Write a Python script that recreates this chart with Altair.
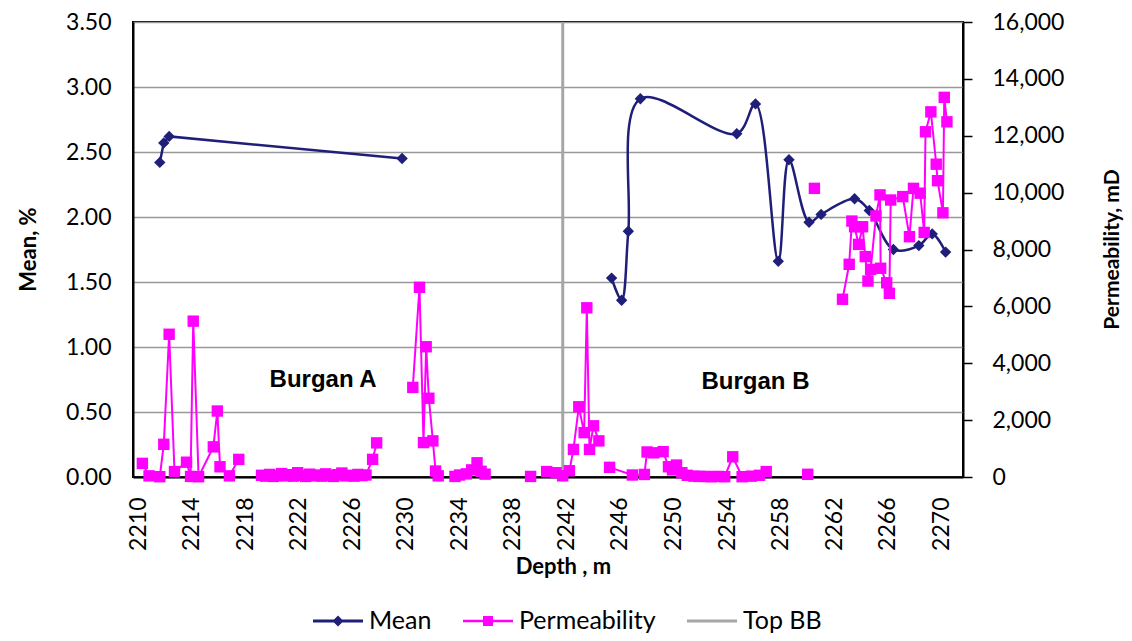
import altair as alt
import pandas as pd

# ---------------- data ----------------
mean_depth = [2212.0, 2212.3, 2212.7, 2230.1,
              2245.75, 2246.5, 2247.0, 2247.9, 2255.1, 2256.5, 2258.2, 2259.0,
              2260.5, 2261.4, 2263.9, 2265.0, 2266.8, 2268.7, 2269.7, 2270.7]
mean_value = [2.42, 2.57, 2.62, 2.45,
              1.53, 1.36, 1.89, 2.91, 2.64, 2.87, 1.66, 2.44,
              1.96, 2.02, 2.14, 2.05, 1.75, 1.78, 1.87, 1.73]
mean_segment = ["A"] * 4 + ["B"] * 16

perm_depth = [
    # segment 1
    2210.7, 2211.2, 2212.0, 2212.3, 2212.7, 2213.1, 2214.0, 2214.3, 2214.5, 2214.9,
    2216.0, 2216.3, 2216.5, 2217.2, 2217.9,
    # segment 2
    2219.6, 2219.9, 2220.2, 2220.5, 2220.8, 2221.1, 2221.4, 2221.7, 2222.0, 2222.3,
    2222.6, 2222.9, 2223.2, 2223.5, 2223.8, 2224.1, 2224.4, 2224.7, 2225.0, 2225.3,
    2225.6, 2225.9, 2226.2, 2226.5, 2226.8, 2227.1, 2227.4, 2227.9, 2228.2,
    # segment 3
    2230.9, 2231.4, 2231.7, 2231.9, 2232.1, 2232.4, 2232.6, 2232.8,
    # segment 4
    2234.05, 2234.4, 2234.9, 2235.3, 2235.7, 2236.0, 2236.3,
    # segment 5
    2239.7,
    # segment 6
    2240.9, 2241.6, 2242.1, 2242.6, 2242.9, 2243.3, 2243.7, 2243.9, 2244.1, 2244.4, 2244.8,
    # segment 7
    2245.6, 2247.3, 2248.2, 2248.4, 2248.9, 2249.6, 2250.0, 2250.3, 2250.6, 2251.0,
    2251.4, 2251.9, 2252.3, 2252.8, 2253.2, 2253.7, 2254.2, 2254.8, 2255.5, 2256.2,
    2256.8, 2257.3,
    # segments 8, 9
    2260.4, 2260.9,
    # segment 10
    2263.0, 2263.5, 2263.7, 2263.9, 2264.2, 2264.5, 2264.7, 2264.9, 2265.1, 2265.5,
    2265.8, 2265.85, 2266.3, 2266.5, 2266.6, 2267.5, 2268.0, 2268.3, 2268.8, 2269.1,
    2269.2, 2269.6, 2270.0, 2270.1, 2270.5, 2270.6, 2270.8,
]
perm_value = [
    480, 40, 10, 1150, 5020, 190, 520, 20, 5480, 10,
    1060, 2320, 360, 40, 620,
    60, 30, 90, 20, 50, 120, 40, 80, 30, 150,
    60, 20, 100, 40, 70, 30, 110, 50, 20, 80,
    140, 40, 60, 30, 90, 50, 70, 620, 1200,
    3150, 6670, 1210, 4580, 2770, 1270, 210, 40,
    20, 70, 110, 250, 500, 200, 100,
    20,
    190, 150, 40, 220, 970, 2470, 1560, 5950, 970, 1800, 1270,
    340, 70, 90, 880, 850, 890, 360, 250, 420, 150,
    60, 30, 20, 20, 10, 20, 10, 710, 10, 30,
    60, 190,
    95, 10150,
    6250, 7480, 9000, 8800, 8180, 8800, 7750, 6890, 7300, 9180,
    9920, 7340, 6830, 6460, 9740, 9860, 8450, 10150, 9980, 8600,
    12140, 12840, 11000, 10420, 9290, 13350, 12490,
]
perm_segment = ([1] * 15 + [2] * 29 + [3] * 8 + [4] * 7 + [5] * 1 + [6] * 11
                + [7] * 22 + [8] + [9] + [10] * 27)

top_bb_depth = [2242.1]

zone_labels = ["Burgan A", "Burgan B"]
zone_depth = [2224.2, 2256.5]
zone_mean = [0.745, 0.73]

legend_series = ["Mean", "Permeability", "Top BB"]
legend_colors = ["#1F1F7A", "#FF00FF", "#A6A6A6"]
legend_shapes = [
    "M-1,-0.06H1V0.06H-1Z M-0.22,0L0,-0.22L0.22,0L0,0.22Z",
    "M-1,-0.05H1V0.05H-1Z M-0.2,-0.2H0.2V0.2H-0.2Z",
    "M-1,-0.06H1V0.06H-1Z",
]

x_ticks = list(range(2210, 2271, 4))
mean_ticks = [0, 0.5, 1.0, 1.5, 2.0, 2.5, 3.0, 3.5]
perm_ticks = list(range(0, 16001, 2000))

# ---------------- tables ----------------
mean_df = pd.DataFrame({"depth": mean_depth, "mean": mean_value, "seg": mean_segment})
perm_df = pd.DataFrame({"depth": perm_depth, "perm": perm_value, "seg": perm_segment})
bb_df = pd.DataFrame({"depth": top_bb_depth})
zone_df = pd.DataFrame({"depth": zone_depth, "mean": zone_mean, "label": zone_labels})
legend_df = pd.DataFrame({"series": legend_series})

LABEL_FONT = "Lato"
NAVY = legend_colors[0]
MAGENTA = legend_colors[1]
GREY = legend_colors[2]

x_enc = alt.X(
    "depth:Q",
    scale=alt.Scale(domain=[2210, 2272], nice=False, zero=False),
    axis=alt.Axis(
        values=x_ticks, format="d", labelAngle=270, labelPadding=20, labelOffset=5,
        ticks=False, grid=False, labelFont=LABEL_FONT, labelFontSize=23,
        labelColor="black", domainColor="black", domainWidth=2,
        title="Depth , m", titleFont=LABEL_FONT, titleFontSize=22, titleFontWeight="bold",
        titleColor="black", titleX=430, titleY=89, titleBaseline="middle",
        titleAlign="center",
    ),
)

y_mean = alt.Y(
    "mean:Q",
    scale=alt.Scale(domain=[0, 3.5], nice=False),
    axis=alt.Axis(
        values=mean_ticks, format=".2f", ticks=False, labelPadding=22,
        labelFont=LABEL_FONT, labelFontSize=23, labelColor="black",
        grid=True, gridColor="#999999", gridWidth=1.4,
        domainColor="black", domainWidth=2,
        title="Mean, %", titleFont=LABEL_FONT, titleFontSize=22, titleFontWeight="bold",
        titleColor="black", titleX=-105, titleY=227, titleAngle=270,
        titleBaseline="middle", titleAlign="center",
    ),
)

y_perm = alt.Y(
    "perm:Q",
    scale=alt.Scale(domain=[0, 16000], nice=False),
    axis=alt.Axis(
        orient="right", values=perm_ticks, format=",d", tickSize=9, tickColor="black",
        tickWidth=1.5, labelPadding=20, labelFont=LABEL_FONT, labelFontSize=23,
        labelColor="black", grid=False, domainColor="black", domainWidth=2,
        title="Permeability, mD", titleFont=LABEL_FONT, titleFontSize=21,
        titleFontWeight="bold", titleColor="black", titleX=149, titleY=227,
        titleAngle=270, titleBaseline="middle", titleAlign="center",
    ),
)

mean_line_a = alt.Chart(mean_df).transform_filter(alt.datum.seg == "A").mark_line(
    color=NAVY, strokeWidth=2.5
).encode(x=x_enc, y=y_mean)

mean_line_b = alt.Chart(mean_df).transform_filter(alt.datum.seg == "B").mark_line(
    interpolate="catmull-rom", color=NAVY, strokeWidth=2.5
).encode(x=x_enc, y=y_mean)

mean_pts = alt.Chart(mean_df).mark_point(
    shape="diamond", filled=True, color=NAVY, size=130, opacity=1
).encode(x=x_enc, y=y_mean)

bb_rule = alt.Chart(bb_df).mark_rule(color=GREY, strokeWidth=3).encode(x=x_enc)

zone_text = alt.Chart(zone_df).mark_text(
    font="Liberation Sans", fontSize=24, fontWeight="bold", color="black",
    align="center", baseline="middle"
).encode(x=x_enc, y=y_mean, text="label:N")

legend_opts = dict(
    orient="none", legendX=180, legendY=574, direction="horizontal", title=None,
    labelFont=LABEL_FONT, labelFontSize=25, labelColor="black",
    symbolSize=2500, symbolStrokeWidth=0, columnPadding=31, labelOffset=6,
    padding=0,
)

legend_layer = alt.Chart(legend_df).mark_point(filled=True, opacity=1, strokeWidth=0).encode(
    color=alt.Color(
        "series:N",
        scale=alt.Scale(domain=legend_series, range=legend_colors),
        legend=alt.Legend(**legend_opts),
    ),
    shape=alt.Shape(
        "series:N",
        scale=alt.Scale(domain=legend_series, range=legend_shapes),
        legend=alt.Legend(**legend_opts),
    ),
).transform_filter("false")

perm_line = alt.Chart(perm_df).mark_line(color=MAGENTA, strokeWidth=2).encode(
    x=x_enc, y=y_perm, detail="seg:N"
)
perm_pts = alt.Chart(perm_df).mark_point(
    shape="square", filled=True, color=MAGENTA, size=130, opacity=1
).encode(x=x_enc, y=y_perm)

left = alt.layer(bb_rule, mean_line_a, mean_line_b, mean_pts, zone_text, legend_layer)
right = alt.layer(perm_line, perm_pts)

chart = alt.layer(left, right).resolve_scale(y="independent").properties(
    width=830, height=455,
    autosize=alt.AutoSizeParams(type="none"),
    padding={"left": 125, "top": 14, "right": 161, "bottom": 156},
    background="white",
).configure_view(stroke="black", strokeWidth=2)

chart.save("out.html", embed_options={"renderer": "svg", "actions": False})
